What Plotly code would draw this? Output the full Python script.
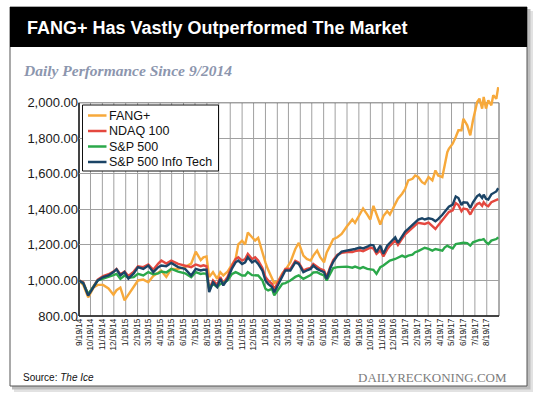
import plotly.graph_objects as go

# ---------------- data ----------------
dates = [
    "2014-09-19", "2014-09-30", "2014-10-13", "2014-10-27", "2014-11-07", "2014-11-21",
    "2014-12-05", "2014-12-18", "2014-12-26", "2015-01-05", "2015-01-16", "2015-01-26",
    "2015-02-09", "2015-02-20", "2015-03-06", "2015-03-19", "2015-04-01", "2015-04-14",
    "2015-04-22", "2015-05-05", "2015-05-18", "2015-06-05", "2015-06-23", "2015-07-09",
    "2015-07-21", "2015-08-03", "2015-08-10", "2015-08-18",
    "2015-08-25", "2015-09-04", "2015-09-15", "2015-09-23", "2015-10-01", "2015-10-12",
    "2015-10-23", "2015-11-02", "2015-11-09", "2015-11-19", "2015-11-27", "2015-12-04",
    "2015-12-15", "2015-12-23", "2015-12-31", "2016-01-11", "2016-01-19", "2016-01-26",
    "2016-02-05", "2016-02-11", "2016-02-22", "2016-03-03", "2016-03-11", "2016-03-24",
    "2016-04-06", "2016-04-15", "2016-04-27", "2016-05-06", "2016-05-16", "2016-05-23",
    "2016-06-02", "2016-06-10", "2016-06-20", "2016-06-27", "2016-07-06", "2016-07-14",
    "2016-07-25",
    "2016-08-05", "2016-08-19", "2016-09-02", "2016-09-09", "2016-09-22", "2016-09-30",
    "2016-10-11", "2016-10-19", "2016-10-27", "2016-11-04", "2016-11-14", "2016-11-22",
    "2016-12-02", "2016-12-09", "2016-12-23", "2016-12-30", "2017-01-10", "2017-01-18",
    "2017-01-26", "2017-02-06", "2017-02-13", "2017-02-21", "2017-03-03", "2017-03-10",
    "2017-03-20", "2017-03-30", "2017-04-07", "2017-04-14", "2017-04-25", "2017-05-01",
    "2017-05-08", "2017-05-12", "2017-05-22", "2017-05-30", "2017-06-06", "2017-06-14",
    "2017-06-19", "2017-06-29", "2017-07-07", "2017-07-14", "2017-07-25", "2017-07-31",
    "2017-08-07", "2017-08-11", "2017-08-17", "2017-08-23", "2017-08-31", "2017-09-05",
    "2017-09-13", "2017-09-18",
]

fang_plus = [
    1000, 975, 905, 960, 975, 975, 955, 920, 945, 960, 888, 920,
    965, 1000, 1005, 990, 1025, 1045, 1055, 1020, 1065, 1065, 1075, 1095,
    1162, 1115, 1130, 1135,
    1019, 1047, 1009, 1047, 1028, 1050, 1090, 1121, 1203, 1224, 1203, 1270,
    1243, 1225, 1240, 1150, 1100, 1060, 1010, 985, 1000, 1040, 1060, 1102,
    1177, 1212, 1140, 1121, 1112, 1140, 1168, 1131, 1102, 1158, 1196, 1233,
    1243,
    1262, 1305, 1343, 1324, 1371, 1405, 1371, 1343, 1420, 1371, 1315, 1362,
    1390, 1371, 1430, 1460, 1488, 1516, 1563, 1572, 1591, 1582, 1553, 1544,
    1582, 1563, 1619, 1591, 1582, 1657, 1722, 1741, 1770, 1807, 1845, 1845,
    1910, 1873, 1817, 1901, 2004, 2023, 1967, 2033, 1967, 2014, 1986, 2042,
    2023, 2088,
]

ndaq_100 = [
    1000, 990, 920, 970, 1005, 1025, 1035, 1050, 1065, 1035, 1050, 1025,
    1050, 1080, 1075, 1090, 1060, 1095, 1112, 1095, 1112, 1093, 1085, 1075,
    1090, 1080, 1085, 1080,
    950, 1000, 975, 1020, 985, 1020, 1080, 1121, 1131, 1112, 1121, 1150,
    1121, 1131, 1112, 1070, 1020, 1000, 981, 950, 995, 1030, 1065, 1065,
    1110, 1100, 1056, 1065, 1070, 1093, 1075, 1065, 1056, 1019, 1075, 1115,
    1145,
    1155, 1160, 1160, 1165, 1170, 1165, 1175, 1185, 1180, 1150, 1170, 1135,
    1175, 1195, 1225, 1200, 1235, 1260, 1275, 1300, 1310, 1325, 1320, 1318,
    1325, 1305, 1290, 1310, 1340, 1355, 1375, 1385, 1395, 1436, 1425, 1390,
    1405, 1400, 1371, 1400, 1430, 1436, 1420, 1440, 1425, 1418, 1440, 1445,
    1450, 1458,
]

sp_500 = [
    1000, 985, 923, 965, 1000, 1010, 1019, 1030, 1037, 1009, 1028, 1015,
    1019, 1037, 1028, 1047, 1035, 1040, 1050, 1045, 1065, 1050, 1040, 1019,
    1047, 1037, 1040, 1037,
    953, 981, 963, 981, 985, 1000, 1035, 1047, 1040, 1028, 1028, 1047,
    1030, 1028, 1028, 1000, 953, 944, 953, 916, 953, 981, 985, 1000,
    1020, 1028, 1009, 1019, 1030, 1045, 1047, 1037, 1028, 1000, 1040, 1070,
    1075,
    1075, 1078, 1072, 1078, 1068, 1075, 1065, 1062, 1060, 1037, 1075, 1084,
    1102, 1112, 1121, 1128, 1140, 1131, 1140, 1145, 1159, 1165, 1175, 1184,
    1178, 1168, 1177, 1172, 1168, 1185, 1196, 1190, 1180, 1205, 1208, 1212,
    1212, 1210, 1196, 1215, 1224, 1228, 1230, 1233, 1215, 1205, 1224, 1228,
    1233, 1243,
]

sp_500_info_tech = [
    1000, 985, 915, 963, 1000, 1019, 1028, 1047, 1062, 1028, 1047, 1011,
    1040, 1075, 1065, 1084, 1047, 1075, 1084, 1080, 1099, 1075, 1065, 1028,
    1065, 1056, 1060, 1060,
    934, 990, 963, 1009, 972, 1009, 1065, 1102, 1112, 1093, 1102, 1131,
    1102, 1112, 1093, 1056, 1000, 981, 963, 934, 981, 1019, 1056, 1056,
    1102, 1093, 1047, 1056, 1065, 1084, 1065, 1056, 1047, 1009, 1068, 1105,
    1140,
    1162, 1168, 1170, 1177, 1185, 1180, 1190, 1200, 1198, 1159, 1196, 1150,
    1196, 1212, 1243, 1212, 1252, 1275, 1290, 1315, 1330, 1343, 1350, 1343,
    1350, 1345, 1333, 1345, 1370, 1385, 1405, 1415, 1427, 1473, 1464, 1425,
    1440, 1438, 1408, 1440, 1475, 1483, 1464, 1483, 1460, 1455, 1485, 1492,
    1501, 1519,
]

series_names = ["FANG+", "NDAQ 100", "S&P 500", "S&P 500 Info Tech"]
series_values = [fang_plus, ndaq_100, sp_500, sp_500_info_tech]
series_colors = ["#F7A93B", "#E4483F", "#2BA84A", "#1B4466"]

y_ticks = [800, 1000, 1200, 1400, 1600, 1800, 2000]

x_tick_dates = [
    "2014-09-19", "2014-10-19", "2014-11-19", "2014-12-19", "2015-01-19", "2015-02-19",
    "2015-03-19", "2015-04-19", "2015-05-19", "2015-06-19", "2015-07-19", "2015-08-19",
    "2015-09-19", "2015-10-19", "2015-11-19", "2015-12-19", "2016-01-19", "2016-02-19",
    "2016-03-19", "2016-04-19", "2016-05-19", "2016-06-19", "2016-07-19", "2016-08-19",
    "2016-09-19", "2016-10-19", "2016-11-19", "2016-12-19", "2017-01-19", "2017-02-19",
    "2017-03-19", "2017-04-19", "2017-05-19", "2017-06-19", "2017-07-19", "2017-08-19",
]
x_tick_labels = [
    "9/19/14", "10/19/14", "11/19/14", "12/19/14", "1/19/15", "2/19/15",
    "3/19/15", "4/19/15", "5/19/15", "6/19/15", "7/19/15", "8/19/15",
    "9/19/15", "10/19/15", "11/19/15", "12/19/15", "1/19/16", "2/19/16",
    "3/19/16", "4/19/16", "5/19/16", "6/19/16", "7/19/16", "8/19/16",
    "9/19/16", "10/19/16", "11/19/16", "12/19/16", "1/19/17", "2/19/17",
    "3/19/17", "4/19/17", "5/19/17", "6/19/17", "7/19/17", "8/19/17",
]

title_text = "FANG+ Has Vastly Outperformed The Market"
subtitle_text = "Daily Performance Since 9/2014"
source_label = "Source: "
source_name = "The Ice"
brand_text = "DAILYRECKONING.COM"

# ---------------- layout geometry ----------------
W, H = 540, 396
L, R, T, B = 79, 499, 85, 316          # plot area in pixels
X_RANGE = ["2014-09-19", "2017-09-20"]
Y_MIN, Y_MAX = 800, 2100               # headroom so FANG+ can run above the frame
Y_FRAME_TOP = 2000

SANS = "Liberation Sans, Arial, Helvetica, sans-serif"
SERIF = "Liberation Serif, Times New Roman, serif"


def pxx(x):
    return (x - L) / (R - L)


def pxy(y):
    return (B - y) / (B - T)


def val_y(v):
    return (v - Y_MIN) / (Y_MAX - Y_MIN)


fig = go.Figure()
for name, vals, color in zip(series_names, series_values, series_colors):
    fig.add_trace(go.Scatter(
        x=dates, y=vals, mode="lines", name=name,
        line=dict(color=color, width=2.4), showlegend=False,
        hoverinfo="x+y+name",
    ))

shapes = []
# card shadow and card
shapes.append(dict(type="rect", xref="paper", yref="paper", layer="below",
                   x0=pxx(14), x1=pxx(533), y0=pxy(392), y1=pxy(11),
                   fillcolor="#e2e2e2", line=dict(width=0)))
shapes.append(dict(type="rect", xref="paper", yref="paper", layer="below",
                   x0=pxx(12), x1=pxx(530.5), y0=pxy(389.5), y1=pxy(9),
                   fillcolor="#bdbdbd", line=dict(width=0)))
shapes.append(dict(type="rect", xref="paper", yref="paper", layer="below",
                   x0=pxx(10), x1=pxx(527), y0=pxy(386), y1=pxy(7),
                   fillcolor="white", line=dict(color="#555555", width=1)))
# title band
shapes.append(dict(type="rect", xref="paper", yref="paper", layer="below",
                   x0=pxx(10), x1=pxx(527), y0=pxy(47), y1=pxy(7),
                   fillcolor="black", line=dict(width=0)))
# vertical grid lines (stop at the 2000 frame line)
for d in x_tick_dates[1:]:
    shapes.append(dict(type="line", xref="x", yref="paper", layer="below",
                       x0=d, x1=d, y0=val_y(Y_MIN), y1=val_y(Y_FRAME_TOP),
                       line=dict(color="#a0a0a0", width=1)))
# plot frame
shapes.append(dict(type="rect", xref="paper", yref="paper", layer="below",
                   x0=0, x1=1, y0=val_y(Y_MIN), y1=val_y(Y_FRAME_TOP),
                   line=dict(color="#5a5a5a", width=1), fillcolor="rgba(0,0,0,0)"))
shapes.append(dict(type="line", xref="paper", yref="paper", layer="below",
                   x0=0, x1=0, y0=val_y(Y_MIN), y1=val_y(Y_FRAME_TOP),
                   line=dict(color="#222222", width=1.5)))
shapes.append(dict(type="line", xref="paper", yref="paper", layer="below",
                   x0=0, x1=1, y0=val_y(Y_MIN), y1=val_y(Y_MIN),
                   line=dict(color="#222222", width=1.5)))

# manual legend box
shapes.append(dict(type="rect", xref="paper", yref="paper", layer="above",
                   x0=pxx(82.5), x1=pxx(218.5), y0=pxy(171), y1=pxy(105),
                   fillcolor="white", line=dict(color="#111111", width=1)))
legend_rows_y = [115.5, 131, 146.5, 162]
annotations = []
for name, color, ry in zip(series_names, series_colors, legend_rows_y):
    shapes.append(dict(type="line", xref="paper", yref="paper", layer="above",
                       x0=pxx(88), x1=pxx(106.5), y0=pxy(ry), y1=pxy(ry),
                       line=dict(color=color, width=2.5)))
    annotations.append(dict(text=name, xref="paper", yref="paper", showarrow=False,
                            x=pxx(106.5), y=pxy(ry), xanchor="left", yanchor="middle",
                            font=dict(family=SANS, size=12.5, color="#111111")))

annotations += [
    dict(text="<b>" + title_text + "</b>", xref="paper", yref="paper", showarrow=False,
         x=pxx(24.5), y=pxy(28.5), xanchor="left", yanchor="middle",
         font=dict(family=SANS, size=18, color="white")),
    dict(text="<b><i>" + subtitle_text + "</i></b>", xref="paper", yref="paper",
         showarrow=False, x=pxx(20.5), y=pxy(70), xanchor="left", yanchor="middle",
         font=dict(family=SERIF, size=15.5, color="#8c96ae")),
    dict(text=source_label + "<i>" + source_name + "</i>", xref="paper", yref="paper",
         showarrow=False, x=pxx(20.5), y=pxy(377.5), xanchor="left", yanchor="middle",
         font=dict(family=SANS, size=10, color="#111111")),
    dict(text=brand_text, xref="paper", yref="paper", showarrow=False,
         x=pxx(509), y=pxy(377.5), xanchor="right", yanchor="middle",
         font=dict(family=SERIF, size=13, color="#7c7c7c")),
]

fig.update_layout(
    width=W, height=H, autosize=False,
    margin=dict(l=L, r=W - R, t=T, b=H - B, pad=0),
    paper_bgcolor="white", plot_bgcolor="rgba(0,0,0,0)",
    showlegend=False,
    shapes=shapes, annotations=annotations,
    xaxis=dict(
        type="date", range=X_RANGE, showgrid=False, zeroline=False, showline=False,
        tickmode="array", tickvals=x_tick_dates, ticktext=x_tick_labels,
        tickangle=-90, ticks="", ticklen=0,
        tickfont=dict(family=SANS, size=8.2, color="#222222"),
    ),
    yaxis=dict(
        range=[Y_MIN, Y_MAX], showgrid=True, gridcolor="#a0a0a0", gridwidth=1,
        zeroline=False, showline=False,
        tickmode="array", tickvals=y_ticks, tickformat=",.2f", ticks="",
        tickfont=dict(family=SANS, size=13, color="#1a1a1a"),
    ),
)

# the page's default body margin would offset the 540x396 figure inside the window
fig.write_html("out.html", config={"displayModeBar": False},
               post_script="document.body.style.margin='0';")
